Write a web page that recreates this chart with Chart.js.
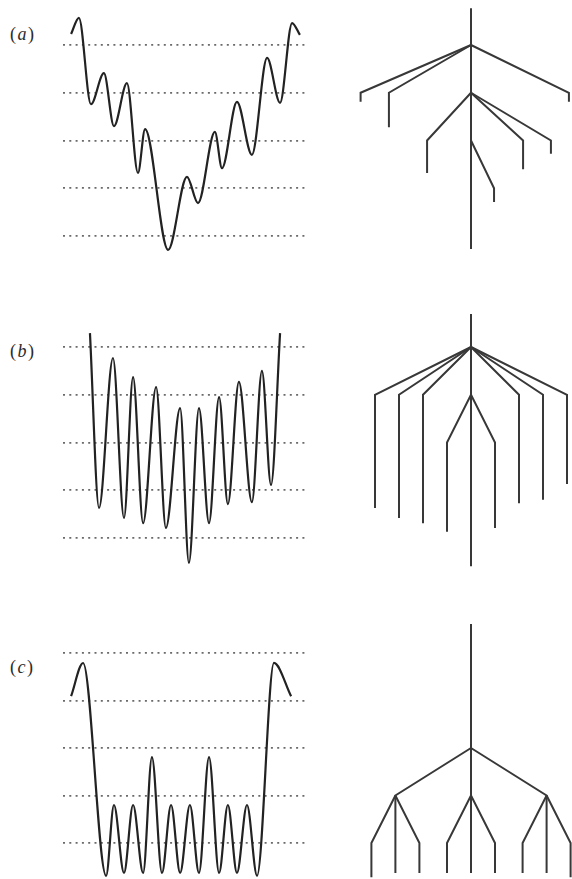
<!DOCTYPE html>
<html>
<head>
<meta charset="utf-8">
<script src="https://cdn.jsdelivr.net/npm/chart.js@4"></script>
<style>
    html, body { margin: 0; padding: 0; background: #fff; overflow: hidden; }
    #figure { position: relative; width: 572px; height: 879px; overflow: hidden; }
    #figure canvas { position: absolute; }
    .panel-label {
        position: absolute;
        left: 10px;
        font-family: "Liberation Serif", "DejaVu Serif", serif;
        font-size: 18px;
        line-height: 18px;
        color: #2b2b2b;
        letter-spacing: 1.5px;
    }
</style>
</head>
<body>
<div id="figure">
    <div class="panel-label" style="top:25px">(<i>a</i>)</div>
    <div class="panel-label" style="top:342px">(<i>b</i>)</div>
    <div class="panel-label" style="top:658px">(<i>c</i>)</div>
</div>
<script>
// Energy levels marked by the dotted lines
const energyLevels = [1, 2, 3, 4, 5];

// (a) landscape: turning points (coordinate 0-100, energy)
const coordA = [3.3, 6.5, 11.4, 16.7, 20.8, 26.1, 30.6, 33.5, 42.9, 50.6, 55.1, 62.0, 64.9, 71.0, 77.1, 83.3, 88.6, 93.5, 96.7];
const energyA = [5.23, 5.57, 3.76, 4.41, 3.30, 4.20, 2.32, 3.24, 0.71, 2.24, 1.69, 3.18, 2.42, 3.81, 2.70, 4.73, 3.79, 5.46, 5.21];

// (b) landscape
const coordB = [11.0, 14.7, 20.4, 24.9, 28.6, 32.7, 38.0, 42.0, 47.8, 51.4, 55.5, 59.6, 63.7, 67.3, 71.8, 77.1, 81.2, 84.9, 88.6];
const energyB = [5.29, 1.63, 4.77, 1.42, 4.37, 1.31, 4.16, 1.21, 3.72, 0.48, 3.72, 1.31, 3.95, 1.71, 4.27, 1.75, 4.50, 2.11, 5.29];

// (c) landscape
const coordC = [3.3, 8.2, 17.6, 20.8, 24.9, 28.6, 32.7, 36.3, 40.4, 44.1, 47.8, 51.8, 55.5, 59.6, 63.7, 67.3, 71.0, 75.1, 79.2, 86.1, 93.1];
const energyC = [4.09, 4.79, 0.31, 1.80, 0.37, 1.80, 0.37, 2.81, 0.37, 1.80, 0.37, 1.80, 0.37, 2.81, 0.37, 1.80, 0.37, 1.80, 0.31, 4.79, 4.09];

// Disconnectivity trees: trunk [top, bottom] energy, then one entry per branch.
// Each branch leaves its parent node, bends one level lower, then drops to its minimum.
const trunkA = [5.77, 0.73];
const parentXA = [0, 0, 0, 0, 0, 0, 0];
const parentEA = [5, 5, 5, 4, 4, 4, 3];
const leafXA = [-4.6, -3.42, 4.08, -1.83, 2.17, 3.33, 0.96];
const leafEA = [3.81, 3.28, 3.81, 2.32, 2.40, 2.72, 1.71];

const trunkB = [5.69, 0.41];
const parentXB = [0, 0, 0, 0, 0, 0, 0, 0];
const parentEB = [5, 5, 5, 5, 5, 5, 4, 4];
const leafXB = [-4, -3, -2, 2, 3, 4, -1, 1];
const leafEB = [1.63, 1.42, 1.31, 1.73, 1.80, 2.13, 1.13, 1.21];

const trunkC = [5.61, 0.37];
const parentXC = [0, 0, -3.15, -3.15, 0, 0, 3.15, 3.15];
const parentEC = [3, 3, 2, 2, 2, 2, 2, 2];
const leafXC = [-3.15, 3.15, -4.15, -2.15, -1, 1, 2.15, 4.15];
const leafEC = [0.37, 0.37, 0.28, 0.37, 0.37, 0.37, 0.37, 0.28];

const curveColor = '#222222';
const treeColor = '#383838';
const dotColor = '#6a6a6a';

// Row geometry on the page
const rows = [
    { top: 0, height: 280, level1: 236, step: 47.75 },
    { top: 300, height: 280, level1: 538, step: 47.75 },
    { top: 605, height: 274, level1: 843, step: 47.5 }
];

function addCanvas(left, top, width, height) {
    const canvas = document.createElement('canvas');
    canvas.width = width;
    canvas.height = height;
    canvas.style.left = left + 'px';
    canvas.style.top = top + 'px';
    canvas.style.width = width + 'px';
    canvas.style.height = height + 'px';
    document.getElementById('figure').appendChild(canvas);
    return canvas.getContext('2d');
}

// energy range so that level 1 and the level spacing land where the reference has them
function energyRange(row) {
    return {
        max: 1 + (row.level1 - row.top) / row.step,
        min: 1 - (row.top + row.height - row.level1) / row.step
    };
}

function drawLandscape(row, coords, energies) {
    const range = energyRange(row);
    const ctx = addCanvas(63, row.top, 245, row.height);
    new Chart(ctx, {
        type: 'scatter',
        data: {
            datasets: [{
                data: coords.map((x, i) => ({ x: x, y: energies[i] })),
                showLine: true,
                borderColor: curveColor,
                borderWidth: 2.2,
                pointRadius: 0,
                cubicInterpolationMode: 'monotone',
                clip: false
            }]
        },
        options: {
            responsive: false,
            animation: false,
            events: [],
            layout: { padding: 0 },
            plugins: { legend: { display: false }, tooltip: { enabled: false } },
            scales: {
                x: { type: 'linear', min: 0, max: 100, display: false },
                y: {
                    type: 'linear',
                    min: range.min,
                    max: range.max,
                    afterBuildTicks: function(axis) {
                        axis.ticks = energyLevels.map(v => ({ value: v }));
                    },
                    ticks: { display: false },
                    grid: { drawTicks: false, color: dotColor, lineWidth: 1.7 },
                    border: { display: false, dash: [2, 4.3] }
                }
            }
        }
    });
}

function drawTree(row, trunk, parentX, parentE, leafX, leafE) {
    const range = energyRange(row);
    const ctx = addCanvas(351, row.top, 240, row.height);
    const datasets = [{
        data: [{ x: 0, y: trunk[0] }, { x: 0, y: trunk[1] }]
    }];
    leafX.forEach((x, i) => {
        datasets.push({
            data: [
                { x: parentX[i], y: parentE[i] },
                { x: x, y: parentE[i] - 1 },
                { x: x, y: leafE[i] }
            ]
        });
    });
    datasets.forEach(ds => {
        ds.showLine = true;
        ds.borderColor = treeColor;
        ds.borderWidth = 2;
        ds.pointRadius = 0;
        ds.tension = 0;
        ds.clip = false;
    });
    new Chart(ctx, {
        type: 'scatter',
        data: { datasets: datasets },
        options: {
            responsive: false,
            animation: false,
            events: [],
            layout: { padding: 0 },
            plugins: { legend: { display: false }, tooltip: { enabled: false } },
            scales: {
                x: { type: 'linear', min: -5, max: 5, display: false },
                y: { type: 'linear', min: range.min, max: range.max, display: false }
            }
        }
    });
}

drawLandscape(rows[0], coordA, energyA);
drawTree(rows[0], trunkA, parentXA, parentEA, leafXA, leafEA);
drawLandscape(rows[1], coordB, energyB);
drawTree(rows[1], trunkB, parentXB, parentEB, leafXB, leafEB);
drawLandscape(rows[2], coordC, energyC);
drawTree(rows[2], trunkC, parentXC, parentEC, leafXC, leafEC);
</script>
</body>
</html>
